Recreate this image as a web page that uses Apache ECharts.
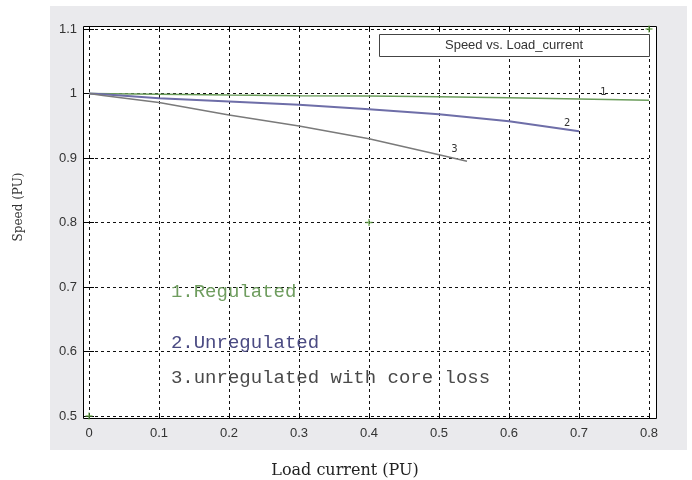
<!DOCTYPE html>
<html lang="en">
<head>
    <meta charset="UTF-8">
    <title>Speed vs. Load_current</title>
    <script src="https://cdn.jsdelivr.net/npm/echarts@6/dist/echarts.min.js"></script>
    <style>
        html, body { margin: 0; padding: 0; background: #fff; }
    </style>
</head>
<body>
<div id="main" style="width: 692px;height:480px;"></div>
<script type="text/javascript">
    // load current (PU) and speed (PU)
    var loadRegulated = [0, 0.1, 0.2, 0.3, 0.4, 0.5, 0.6, 0.7, 0.8];
    var speedRegulated = [1.0, 0.9988, 0.9976, 0.9965, 0.996, 0.995, 0.9935, 0.9915, 0.9896];

    var loadUnregulated = [0, 0.02, 0.1, 0.2, 0.3, 0.4, 0.5, 0.6, 0.7];
    var speedUnregulated = [1.0, 0.999, 0.9928, 0.9876, 0.9825, 0.9757, 0.968, 0.957, 0.9416];

    var loadCoreLoss = [0, 0.02, 0.1, 0.2, 0.3, 0.4, 0.5, 0.54];
    var speedCoreLoss = [1.0, 0.997, 0.986, 0.9665, 0.9495, 0.930, 0.905, 0.895];

    // stray green markers in the plot
    var markerX = [0.8, 0, 0.4];
    var markerY = [1.1, 0.5, 0.8];

    // curve numbers and in-plot notes (data coords)
    var tagText = ['1', '2', '3'];
    var tagX = [0.735, 0.683, 0.522];
    var tagY = [1.001, 0.954, 0.913];

    var noteText = ['1.Regulated', '2.Unregulated', '3.unregulated with core loss'];
    var noteColor = ['#6f9d5f', '#4a4a82', '#4a4a4a'];
    var noteX = [0.117, 0.117, 0.117];
    var noteY = [0.692, 0.614, 0.559];

    var lineColors = ['#6a9c5a', '#6e6ea8', '#7a7a7a'];

    function pairs(xs, ys) {
        var out = [];
        for (var i = 0; i < xs.length; i++) out.push([xs[i], ys[i]]);
        return out;
    }

    var myChart = echarts.init(document.getElementById('main'));

    var gridLine = {show: true, lineStyle: {color: '#111', type: [3, 3], width: 1}};
    var tickIn = {show: true, inside: true, length: 5, lineStyle: {color: '#000'}};
    var tickFont = {color: '#333', fontSize: 13, fontFamily: 'Liberation Sans, Arial, sans-serif'};

    var tagPoints = [];
    for (var i = 0; i < tagText.length; i++) {
        tagPoints.push({
            coord: [tagX[i], tagY[i]],
            label: {formatter: tagText[i], color: '#333', fontSize: 10, position: 'inside',
                fontFamily: 'DejaVu Sans, sans-serif'}
        });
    }
    var notePoints = [];
    for (var j = 0; j < noteText.length; j++) {
        notePoints.push({
            coord: [noteX[j], noteY[j]],
            label: {formatter: noteText[j], color: noteColor[j], fontSize: 19, position: 'right',
                distance: 0, fontFamily: 'Courier New, Liberation Mono, monospace'}
        });
    }

    var plusPath = 'path://M4,0h2v4h4v2h-4v4h-2v-4h-4v-2h4z';

    myChart.setOption({
        animation: false,
        backgroundColor: '#fff',
        grid: {left: 89, right: 43, top: 29, bottom: 64},
        xAxis: [{
            type: 'value', min: 0, max: 0.8, interval: 0.1, offset: 2,
            axisLine: {show: false}, axisTick: tickIn, splitLine: gridLine,
            axisLabel: Object.assign({margin: 9}, tickFont)
        }, {
            type: 'value', position: 'top', min: 0, max: 0.8, interval: 0.1, offset: 3,
            axisLine: {show: false}, axisTick: tickIn, splitLine: {show: false},
            axisLabel: {show: false}
        }],
        yAxis: [{
            type: 'value', min: 0.5, max: 1.1, interval: 0.1, offset: 6,
            axisLine: {show: false}, axisTick: tickIn, splitLine: gridLine,
            axisLabel: Object.assign({margin: 6}, tickFont)
        }, {
            type: 'value', position: 'right', min: 0.5, max: 1.1, interval: 0.1, offset: 7,
            axisLine: {show: false}, axisTick: tickIn, splitLine: {show: false},
            axisLabel: {show: false}
        }],
        graphic: [
            {type: 'rect', z: -10, shape: {x: 50, y: 6, width: 637, height: 444},
                style: {fill: '#eaeaed'}},
            {type: 'rect', z: -9, shape: {x: 83, y: 26, width: 573, height: 392},
                style: {fill: '#fff'}},
            {type: 'rect', z: 50, shape: {x: 83.5, y: 26.5, width: 573, height: 392},
                style: {fill: 'none', stroke: '#000', lineWidth: 1}},
            {type: 'rect', z: 50, shape: {x: 379.5, y: 34.5, width: 270, height: 22},
                style: {fill: '#fff', stroke: '#444', lineWidth: 1}},
            {type: 'text', z: 51, x: 514, y: 45,
                style: {text: 'Speed vs. Load_current', fill: '#333', fontSize: 13,
                    fontFamily: 'Liberation Sans, Arial, sans-serif', align: 'center', verticalAlign: 'middle'}},
            {type: 'text', z: 51, x: 345, y: 471,
                style: {text: 'Load current (PU)', fill: '#222', fontSize: 16,
                    fontFamily: 'DejaVu Serif, serif', align: 'center', verticalAlign: 'middle'}},
            {type: 'text', z: 51, x: 19, y: 207, rotation: Math.PI / 2,
                style: {text: 'Speed (PU)', fill: '#333', fontSize: 12,
                    fontFamily: 'DejaVu Serif, serif', align: 'center', verticalAlign: 'middle'}}
        ],
        series: [
            {
                name: 'Regulated', type: 'line', data: pairs(loadRegulated, speedRegulated),
                showSymbol: false, lineStyle: {color: lineColors[0], width: 1.5}, z: 5,
                markPoint: {symbol: 'circle', symbolSize: 0, silent: true, data: notePoints}
            },
            {
                name: 'Unregulated', type: 'line', data: pairs(loadUnregulated, speedUnregulated),
                showSymbol: false, lineStyle: {color: lineColors[1], width: 2}, z: 5,
                markPoint: {symbol: 'circle', symbolSize: 0, silent: true, data: tagPoints}
            },
            {
                name: 'Core loss', type: 'line', data: pairs(loadCoreLoss, speedCoreLoss),
                showSymbol: false, lineStyle: {color: lineColors[2], width: 1.5}, z: 5
            },
            {
                name: 'markers', type: 'scatter', data: pairs(markerX, markerY),
                symbol: plusPath, symbolSize: 7, itemStyle: {color: '#5c9e3e'}, z: 60
            }
        ]
    });
</script>
</body>
</html>
